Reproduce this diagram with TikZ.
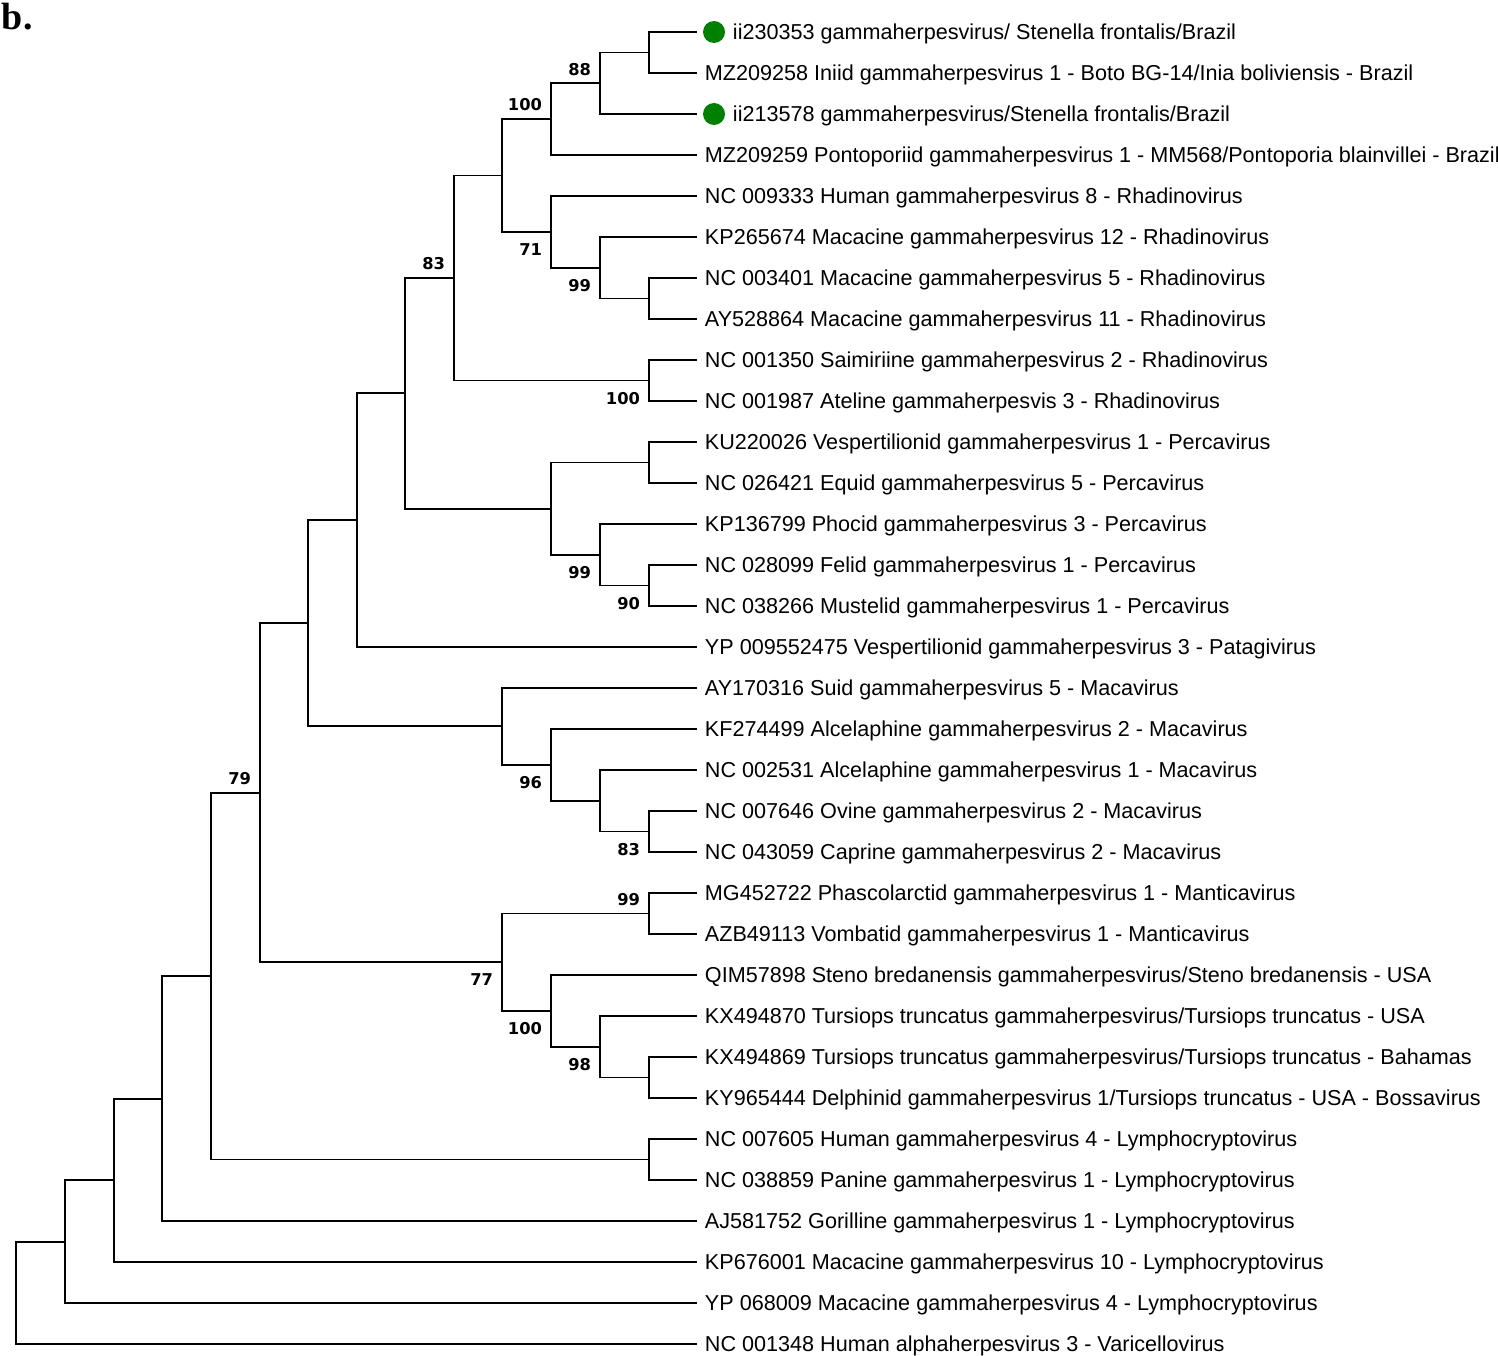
\documentclass[tikz,border=0pt]{standalone}
\usepackage{fontspec}
\setmainfont{Liberation Sans}
\newfontfamily\bootfont{DejaVu Sans}
\newfontfamily\panelfont{Liberation Serif}
\usetikzlibrary{positioning}

\begin{document}
\begin{tikzpicture}[x=1pt, y=-1pt, line width=1.9pt,
    leaf/.style={anchor=west, inner xsep=7pt, inner ysep=0pt, text height=15.2pt, text depth=0pt, font=\fontsize{21.6}{24}\selectfont},
    boot/.style={inner sep=0pt, outer sep=0pt, font=\bootfont\bfseries\fontsize{16.3}{18}\selectfont},
    dot/.style={circle, fill=green!50!black, minimum size=22pt, inner sep=0pt, outer sep=6pt}]
            \useasboundingbox (0,0) rectangle (1498,1356);

            % Panel letter
            \node[anchor=base west, inner sep=0pt, font=\panelfont\bfseries\fontsize{38}{40}\selectfont] (panel) at (1,30) {b.};

            % Define leaves
            \node[dot] (d1) at (714,32) {};
            \node[leaf] (t1) at (725,32) {ii230353 gammaherpesvirus/ Stenella frontalis/Brazil};
            \node[leaf] (t2) at (697,73) {MZ209258 Iniid gammaherpesvirus 1 - Boto BG-14/Inia boliviensis - Brazil};
            \node[dot] (d3) at (714,114) {};
            \node[leaf] (t3) at (725,114) {ii213578 gammaherpesvirus/Stenella frontalis/Brazil};
            \node[leaf] (t4) at (697,155) {MZ209259 Pontoporiid gammaherpesvirus 1 - MM568/Pontoporia blainvillei - Brazil};
            \node[leaf] (t5) at (697,196) {NC 009333 Human gammaherpesvirus 8 - Rhadinovirus};
            \node[leaf] (t6) at (697,237) {KP265674 Macacine gammaherpesvirus 12 - Rhadinovirus};
            \node[leaf] (t7) at (697,278) {NC 003401 Macacine gammaherpesvirus 5 - Rhadinovirus};
            \node[leaf] (t8) at (697,319) {AY528864 Macacine gammaherpesvirus 11 - Rhadinovirus};
            \node[leaf] (t9) at (697,360) {NC 001350 Saimiriine gammaherpesvirus 2 - Rhadinovirus};
            \node[leaf] (t10) at (697,401) {NC 001987 Ateline gammaherpesvis 3 - Rhadinovirus};
            \node[leaf] (t11) at (697,442) {KU220026 Vespertilionid gammaherpesvirus 1 - Percavirus};
            \node[leaf] (t12) at (697,483) {NC 026421 Equid gammaherpesvirus 5 - Percavirus};
            \node[leaf] (t13) at (697,524) {KP136799 Phocid gammaherpesvirus 3 - Percavirus};
            \node[leaf] (t14) at (697,565) {NC 028099 Felid gammaherpesvirus 1 - Percavirus};
            \node[leaf] (t15) at (697,606) {NC 038266 Mustelid gammaherpesvirus 1 - Percavirus};
            \node[leaf] (t16) at (697,647) {YP 009552475 Vespertilionid gammaherpesvirus 3 - Patagivirus};
            \node[leaf] (t17) at (697,688) {AY170316 Suid gammaherpesvirus 5 - Macavirus};
            \node[leaf] (t18) at (697,729) {KF274499 Alcelaphine gammaherpesvirus 2 - Macavirus};
            \node[leaf] (t19) at (697,770) {NC 002531 Alcelaphine gammaherpesvirus 1 - Macavirus};
            \node[leaf] (t20) at (697,811) {NC 007646 Ovine gammaherpesvirus 2 - Macavirus};
            \node[leaf] (t21) at (697,852) {NC 043059 Caprine gammaherpesvirus 2 - Macavirus};
            \node[leaf] (t22) at (697,893) {MG452722 Phascolarctid gammaherpesvirus 1 - Manticavirus};
            \node[leaf] (t23) at (697,934) {AZB49113 Vombatid gammaherpesvirus 1 - Manticavirus};
            \node[leaf] (t24) at (697,975) {QIM57898 Steno bredanensis gammaherpesvirus/Steno bredanensis - USA};
            \node[leaf] (t25) at (697,1016) {KX494870 Tursiops truncatus gammaherpesvirus/Tursiops truncatus - USA};
            \node[leaf] (t26) at (697,1057) {KX494869 Tursiops truncatus gammaherpesvirus/Tursiops truncatus - Bahamas};
            \node[leaf] (t27) at (697,1098) {KY965444 Delphinid gammaherpesvirus 1/Tursiops truncatus - USA - Bossavirus};
            \node[leaf] (t28) at (697,1139) {NC 007605 Human gammaherpesvirus 4 - Lymphocryptovirus};
            \node[leaf] (t29) at (697,1180) {NC 038859 Panine gammaherpesvirus 1 - Lymphocryptovirus};
            \node[leaf] (t30) at (697,1221) {AJ581752 Gorilline gammaherpesvirus 1 - Lymphocryptovirus};
            \node[leaf] (t31) at (697,1262) {KP676001 Macacine gammaherpesvirus 10 - Lymphocryptovirus};
            \node[leaf] (t32) at (697,1303) {YP 068009 Macacine gammaherpesvirus 4 - Lymphocryptovirus};
            \node[leaf] (t33) at (697,1344) {NC 001348 Human alphaherpesvirus 3 - Varicellovirus};

            % Define internal nodes
            \coordinate (n1) at (649,52.5);
            \coordinate (n2) at (600,83.25);
            \coordinate (n3) at (551,119.1);
            \coordinate (n4) at (649,298.5);
            \coordinate (n5) at (600,267.75);
            \coordinate (n6) at (551,231.9);
            \coordinate (n7) at (502,175.5);
            \coordinate (n8) at (649,380.5);
            \coordinate (n9) at (454,278);
            \coordinate (n10) at (649,462.5);
            \coordinate (n11) at (649,585.5);
            \coordinate (n12) at (600,554.75);
            \coordinate (n13) at (551,508.6);
            \coordinate (n14) at (405,393.3);
            \coordinate (n15) at (357,520.2);
            \coordinate (n16) at (649,831.5);
            \coordinate (n17) at (600,800.75);
            \coordinate (n18) at (551,764.9);
            \coordinate (n19) at (502,726.4);
            \coordinate (n20) at (308,623.3);
            \coordinate (n21) at (649,913.5);
            \coordinate (n22) at (649,1077.5);
            \coordinate (n23) at (600,1046.75);
            \coordinate (n24) at (551,1010.9);
            \coordinate (n25) at (502,962.2);
            \coordinate (n26) at (260,792.7);
            \coordinate (n27) at (649,1159.5);
            \coordinate (n28) at (211,976.1);
            \coordinate (n29) at (162,1098.6);
            \coordinate (n30) at (114,1180.3);
            \coordinate (n31) at (65,1241.6);
            \coordinate (n32) at (16,1292.8);

            % Draw branches
            \draw (n1) |- (d1.west) (n1) |- (t2.west);
            \draw (n2) |- (n1) (n2) |- (d3.west);
            \draw (n3) |- (n2) (n3) |- (t4.west);
            \draw (n4) |- (t7.west) (n4) |- (t8.west);
            \draw (n5) |- (t6.west) (n5) |- (n4);
            \draw (n6) |- (t5.west) (n6) |- (n5);
            \draw (n7) |- (n3) (n7) |- (n6);
            \draw (n8) |- (t9.west) (n8) |- (t10.west);
            \draw (n9) |- (n7) (n9) |- (n8);
            \draw (n10) |- (t11.west) (n10) |- (t12.west);
            \draw (n11) |- (t14.west) (n11) |- (t15.west);
            \draw (n12) |- (t13.west) (n12) |- (n11);
            \draw (n13) |- (n10) (n13) |- (n12);
            \draw (n14) |- (n9) (n14) |- (n13);
            \draw (n15) |- (n14) (n15) |- (t16.west);
            \draw (n16) |- (t20.west) (n16) |- (t21.west);
            \draw (n17) |- (t19.west) (n17) |- (n16);
            \draw (n18) |- (t18.west) (n18) |- (n17);
            \draw (n19) |- (t17.west) (n19) |- (n18);
            \draw (n20) |- (n15) (n20) |- (n19);
            \draw (n21) |- (t22.west) (n21) |- (t23.west);
            \draw (n22) |- (t26.west) (n22) |- (t27.west);
            \draw (n23) |- (t25.west) (n23) |- (n22);
            \draw (n24) |- (t24.west) (n24) |- (n23);
            \draw (n25) |- (n21) (n25) |- (n24);
            \draw (n26) |- (n20) (n26) |- (n25);
            \draw (n27) |- (t28.west) (n27) |- (t29.west);
            \draw (n28) |- (n26) (n28) |- (n27);
            \draw (n29) |- (n28) (n29) |- (t30.west);
            \draw (n30) |- (n29) (n30) |- (t31.west);
            \draw (n31) |- (n30) (n31) |- (t32.west);
            \draw (n32) |- (n31) (n32) |- (t33.west);

            % Bootstrap values
            \node[boot, above left=8pt and 9pt of n2] (b2) {88};
            \node[boot, above left=8pt and 9pt of n3] (b3) {100};
            \node[boot, above left=8pt and 9pt of n9] (b9) {83};
            \node[boot, above left=8pt and 9pt of n26] (b26) {79};
            \node[boot, above left=8pt and 9pt of n21] (b21) {99};
            \node[boot, below left=11.5pt and 9pt of n6] (b6) {71};
            \node[boot, below left=11.5pt and 9pt of n5] (b5) {99};
            \node[boot, below left=11.5pt and 9pt of n8] (b8) {100};
            \node[boot, below left=11.5pt and 9pt of n12] (b12) {99};
            \node[boot, below left=11.5pt and 9pt of n11] (b11) {90};
            \node[boot, below left=11.5pt and 9pt of n18] (b18) {96};
            \node[boot, below left=11.5pt and 9pt of n16] (b16) {83};
            \node[boot, below left=11.5pt and 9pt of n25] (b25) {77};
            \node[boot, below left=11.5pt and 9pt of n24] (b24) {100};
            \node[boot, below left=11.5pt and 9pt of n23] (b23) {98};
        \end{tikzpicture}
\end{document}
